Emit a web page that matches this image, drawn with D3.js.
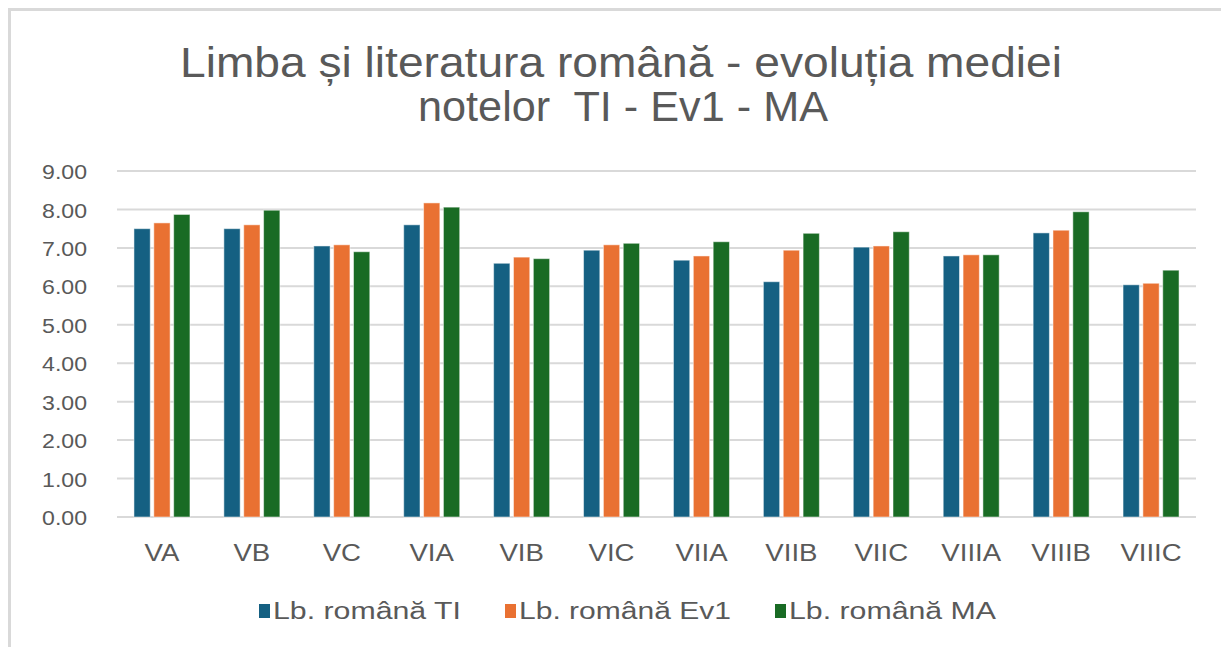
<!DOCTYPE html>
<html>
<head>
<meta charset="utf-8">
<script src="https://cdn.jsdelivr.net/npm/d3@7"></script>
<style>
  body { margin: 0; background: #fff; }
  svg { display: block; font-family: "Liberation Sans", Arial, sans-serif; }
</style>
</head>
<body>
<div id="chart"></div>
<script>
// data
var classes = ['VA', 'VB', 'VC', 'VIA', 'VIB', 'VIC', 'VIIA', 'VIIB', 'VIIC', 'VIIIA', 'VIIIB', 'VIIIC'];
var seriesNames = ['Lb. română TI', 'Lb. română Ev1', 'Lb. română MA'];
var valTI  = [7.50, 7.50, 7.05, 7.60, 6.60, 6.94, 6.68, 6.12, 7.02, 6.79, 7.39, 6.04];
var valEv1 = [7.65, 7.60, 7.08, 8.17, 6.76, 7.08, 6.79, 6.94, 7.05, 6.82, 7.46, 6.08];
var valMA  = [7.87, 7.98, 6.90, 8.06, 6.72, 7.12, 7.16, 7.38, 7.42, 6.82, 7.94, 6.42];
var yTicks = [0, 1, 2, 3, 4, 5, 6, 7, 8, 9];

var colors = ['#156082', '#e97132', '#196b24'];
var series = [valTI, valEv1, valMA];

var width = 1221, height = 647;
var margin = { left: 117, right: 25, top: 171, bottom: 130 };
var stretch = 1.2; // the source picture is a bit wider than tall

var svg = d3.select('#chart').append('svg')
    .attr('width', width)
    .attr('height', height);

// chart frame (only top + left edges show)
svg.append('path')
    .attr('d', 'M9.5,' + height + 'V9.5H' + width)
    .attr('fill', 'none')
    .attr('stroke', '#d9d9d9')
    .attr('stroke-width', 3);

// title
var titleLines = [
    { text: 'Limba și literatura română - evoluția mediei', x: 621, y: 77, len: 882 },
    { text: 'notelor  TI - Ev1 - MA', x: 623, y: 121, len: 410 }
];
svg.append('g')
    .selectAll('text')
    .data(titleLines)
    .join('text')
    .attr('x', d => d.x)
    .attr('y', d => d.y)
    .attr('text-anchor', 'middle')
    .attr('fill', '#595959')
    .attr('xml:space', 'preserve')
    .attr('textLength', d => d.len)
    .attr('lengthAdjust', 'spacingAndGlyphs')
    .style('font-size', '42px')
    .text(d => d.text);

var x0 = d3.scaleBand()
    .domain(classes)
    .range([margin.left, width - margin.right]);

var x1 = d3.scaleBand()
    .domain(d3.range(3))
    .range([0, 56])
    .paddingInner(0.18);

var y = d3.scaleLinear()
    .domain([0, 9])
    .range([height - margin.bottom, margin.top]);

// gridlines
svg.append('g')
    .selectAll('line')
    .data(yTicks)
    .join('line')
    .attr('x1', margin.left)
    .attr('x2', width - margin.right)
    .attr('y1', d => y(d))
    .attr('y2', d => y(d))
    .attr('stroke', '#d9d9d9')
    .attr('stroke-width', 2);

// y axis labels
var yAxis = svg.append('g')
    .attr('transform', 'translate(' + (margin.left - 30) + ',0)')
    .call(d3.axisLeft(y).tickValues(yTicks).tickFormat(d3.format('.2f')).tickSize(0));
yAxis.select('.domain').remove();
yAxis.selectAll('text')
    .attr('x', 0)
    .attr('fill', '#595959')
    .attr('dy', '0.36em')
    .attr('transform', 'scale(1.1,1)')
    .style('font-size', '21px');

// x axis labels
var xAxis = svg.append('g')
    .attr('transform', 'translate(0,' + (height - margin.bottom) + ')')
    .call(d3.axisBottom(x0).tickSize(0).tickPadding(28));
xAxis.select('.domain').remove();
xAxis.selectAll('text')
    .attr('fill', '#595959')
    .attr('transform', 'scale(' + stretch + ',1)')
    .style('font-size', '23px');

// bars
var groups = svg.append('g')
    .selectAll('g')
    .data(classes)
    .join('g')
    .attr('transform', d => 'translate(' + (x0(d) + x0.bandwidth() / 2 - 28) + ',0)');

groups.selectAll('rect')
    .data((d, i) => series.map((s, k) => ({ k: k, v: s[i] })))
    .join('rect')
    .attr('x', d => x1(d.k))
    .attr('width', x1.bandwidth())
    .attr('y', d => y(d.v))
    .attr('height', d => y(0) - y(d.v))
    .attr('fill', d => colors[d.k])
    .attr('stroke', '#fff')
    .attr('stroke-opacity', 0.5)
    .attr('stroke-width', 1);

// legend
var legendX = [259, 505, 775];
var legendLen = [188, 212, 207];
var legend = svg.append('g')
    .selectAll('g')
    .data(seriesNames)
    .join('g')
    .attr('transform', (d, i) => 'translate(' + legendX[i] + ',611)');

legend.append('rect')
    .attr('y', -7)
    .attr('width', 11)
    .attr('height', 14)
    .attr('fill', (d, i) => colors[i]);

legend.append('text')
    .attr('x', 14)
    .attr('dy', '0.36em')
    .attr('fill', '#595959')
    .attr('textLength', (d, i) => legendLen[i])
    .attr('lengthAdjust', 'spacingAndGlyphs')
    .style('font-size', '23px')
    .text(d => d);
</script>
</body>
</html>
